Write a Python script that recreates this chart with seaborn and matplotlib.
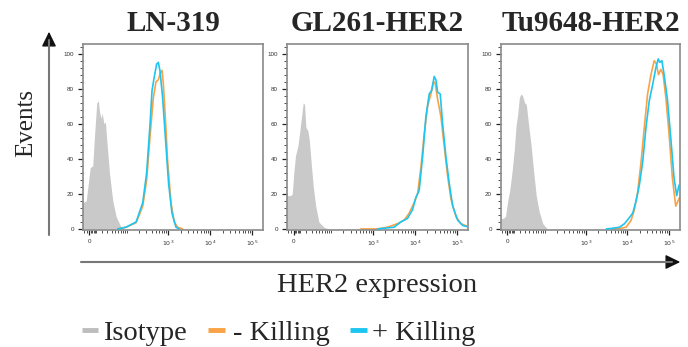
import numpy as np
import matplotlib
matplotlib.use("Agg")
import matplotlib.pyplot as plt
import seaborn as sns
from matplotlib.lines import Line2D
from matplotlib.patches import FancyArrowPatch
from matplotlib.ticker import FixedLocator, FixedFormatter, AutoMinorLocator

# ---- data (x = HER2 signal, y = % of max) ----
panel_titles = ["LN-319", "GL261-HER2", "Tu9648-HER2"]

ln319_iso_x = [-10.5, -4.7, 1.0, 4.7, 7.1, 10.7, 13.3, 15.0, 17.8, 19.7, 22.8, 25.9, 28.6, 34.7, 43.4, 53.6, 71.8, 86.8]
ln319_iso_y = [15, 16, 35, 36, 52, 72, 73, 67, 63, 66, 60, 61, 51, 32, 16, 7, 1, 0]
ln319_minus_x = [59, 96, 169, 244, 303, 366, 439, 508, 577, 644, 708, 760, 848, 962, 1159, 1390, 1667, 2194]
ln319_minus_y = [0, 1, 3.6, 13, 28, 53, 75, 84, 85, 89, 90.5, 83, 64, 39, 15, 4, 1, 0]
ln319_plus_x = [59, 96, 169, 244, 303, 366, 408, 463, 526, 577, 634, 731, 848, 1016, 1225, 1527, 1832]
ln319_plus_y = [0, 1, 4, 15, 32, 60, 79, 87, 94, 95, 90, 75, 53, 26, 9, 1, 0]

gl261_iso_x = [-10, -4.3, -1.8, 0.4, 2.9, 6.2, 9.2, 11.8, 14.5, 16.7, 19.0, 22.6, 25.3, 29.5, 34.0, 40.1, 48.9, 66.6, 88.4]
gl261_iso_y = [19, 19, 20, 32, 42, 47, 56, 64, 72, 71, 58, 56, 51, 37, 24, 13, 4, 1, 0]
gl261_minus_x = [518, 1295, 2244, 3890, 5580, 7350, 9680, 11660, 13990, 16760, 20200, 24230, 28100, 30690,
                 35000, 41970, 50350, 60670, 72780, 95700, 125900, 198600]
gl261_minus_y = [0, 0, 1, 3, 5, 9, 15, 20, 35, 54, 70, 77, 84, 83, 74, 64, 47, 30, 17, 7, 3, 1]
gl261_plus_x = [1295, 3222, 4660, 6730, 8850, 10630, 12740, 15350, 18400, 22070, 25180, 29040, 31900, 35000,
                40360, 46030, 55210, 66220, 79830, 105000, 138300, 198600]
gl261_plus_y = [0, 1, 4, 6, 11, 18, 22, 41, 64, 77, 79, 87, 85, 78, 77, 60, 41, 26, 13, 5, 2, 1]

tu9648_iso_x = [-10, -6.8, -2.9, 0.4, 3.3, 6.8, 10.3, 12.9, 15.5, 18.4, 21.5, 24.5, 28.6, 32.4, 38.1, 44.6,
                52.3, 61.4, 73.1, 90.5, 117.5]
tu9648_iso_y = [6, 6, 7, 16, 22, 33, 46, 59, 65, 75, 77, 76, 72, 71, 59, 48, 33, 19, 10, 3, 0]
tu9648_minus_x = [4480, 7110, 9360, 12330, 14770, 17700, 21330, 25590, 30690, 36980, 44330, 50350, 56100,
                  64120, 72780, 84330, 101100, 121300, 146200, 166000, 182000]
tu9648_minus_y = [0, 0.4, 1, 5, 11, 21, 38, 58, 77, 88, 96, 94, 88, 91, 88, 75, 54, 29, 13, 16, 18]
tu9648_plus_x = [3120, 4480, 6480, 8530, 10790, 13460, 16220, 19440, 23330, 28100, 33650, 40360, 48640,
                 55210, 60670, 67760, 76740, 92040, 110900, 133000, 154500, 175100]
tu9648_plus_y = [0, 0.4, 1, 3, 6, 9, 16, 25, 38, 58, 73, 82, 92, 97, 95, 96, 88, 74, 52, 29, 19, 25]

iso_x = [ln319_iso_x, gl261_iso_x, tu9648_iso_x]
iso_y = [ln319_iso_y, gl261_iso_y, tu9648_iso_y]
minus_x = [ln319_minus_x, gl261_minus_x, tu9648_minus_x]
minus_y = [ln319_minus_y, gl261_minus_y, tu9648_minus_y]
plus_x = [ln319_plus_x, gl261_plus_x, tu9648_plus_x]
plus_y = [ln319_plus_y, gl261_plus_y, tu9648_plus_y]

legend_labels = ["Isotype", "- Killing", "+ Killing"]

# ---- style ----
sns.set_style("ticks")
plt.rcParams['font.family'] = ['Liberation Sans', 'DejaVu Sans']
serif = ['Liberation Serif', 'DejaVu Serif']

c_iso = "#c9c9c9"
c_minus = "#f9a246"
c_plus = "#1cc6f0"
c_spine = "#8a8a8a"

W, H = 688, 347
fig = plt.figure(figsize=(W / 100, H / 100), dpi=100)


def fx(px):
    return px / W


def fy(py):
    return 1 - py / H


# biexponential-like display, approximated with arcsinh
C = 26.0


def fwd(x):
    return np.arcsinh(np.asarray(x) / C)


def inv(y):
    return C * np.sinh(np.asarray(y))


panel_left = [83, 287, 501]
panel_right = [263, 468, 680]
top_px, bottom_px = 44, 230

minor_x = [-8, -4] + [m * 10 ** d for d in range(0, 6) for m in range(2, 10, 2 if d == 0 else 1)] + [10, 100]

for i in range(3):
    ax = fig.add_axes([fx(panel_left[i]), fy(bottom_px),
                       fx(panel_right[i] - panel_left[i]), (bottom_px - top_px) / H])
    ax.fill_between(iso_x[i], iso_y[i], 0, color=c_iso, lw=0, zorder=1)
    sns.lineplot(x=minus_x[i], y=minus_y[i], ax=ax, color=c_minus, lw=1.2,
                 sort=False, estimator=None, zorder=2)
    sns.lineplot(x=plus_x[i], y=plus_y[i], ax=ax, color=c_plus, lw=1.2,
                 sort=False, estimator=None, zorder=3)

    ax.set_xscale("function", functions=(fwd, inv))
    ax.set_xlim(-9.5, 1.85e5)
    ax.set_ylim(-0.6, 105.5)

    ax.xaxis.set_major_locator(FixedLocator([0, 1e3, 1e4, 1e5]))
    ax.xaxis.set_major_formatter(FixedFormatter(["0", r"$10^3$", r"$10^4$", r"$10^5$"]))
    ax.xaxis.set_minor_locator(FixedLocator(minor_x))
    ax.yaxis.set_major_locator(FixedLocator([0, 20, 40, 60, 80, 100]))
    ax.yaxis.set_minor_locator(AutoMinorLocator(5))

    ax.tick_params(which="major", length=3.5, width=0.9, color="#222",
                   labelsize=4.5, labelcolor="#333", pad=3)
    ax.tick_params(which="minor", length=2, width=0.6, color="#333")
    ax.set_xlabel("")
    ax.set_ylabel("")
    for s in ax.spines.values():
        s.set_visible(True)
        s.set_color(c_spine)
        s.set_linewidth(1.2)

    fig.text(fx((panel_left[i] + panel_right[i]) / 2), fy(31), panel_titles[i],
             ha="center", va="baseline", fontsize=21, fontweight="bold", family=serif)

# ---- axis arrows ----
fig.add_artist(Line2D([fx(49), fx(49)], [fy(235), fy(40)], transform=fig.transFigure,
                      color="#777", lw=1.5))
fig.add_artist(FancyArrowPatch((fx(49), fy(42)), (fx(49), fy(29)), transform=fig.transFigure,
                               arrowstyle="-|>,head_length=0.45,head_width=0.22",
                               mutation_scale=20, color="#111", lw=1))
fig.add_artist(Line2D([fx(81), fx(672)], [fy(262), fy(262)], transform=fig.transFigure,
                      color="#777", lw=1.5))
fig.add_artist(FancyArrowPatch((fx(670), fy(262)), (fx(683), fy(262)), transform=fig.transFigure,
                               arrowstyle="-|>,head_length=0.45,head_width=0.22",
                               mutation_scale=20, color="#111", lw=1))

fig.text(fx(26), fy(123), "Events", rotation=90, ha="center", va="center",
         fontsize=18, family=serif)
fig.text(fx(377), fy(292), "HER2 expression", ha="center", va="baseline",
         fontsize=20.5, family=serif)

# ---- legend ----
leg_colors = ["#bdbdbd", c_minus, c_plus]
patch_x = [(82, 98), (208, 225), (350, 367)]
text_x = [103, 233, 372]
for lab, col, (x0, x1), tx in zip(legend_labels, leg_colors, patch_x, text_x):
    fig.add_artist(Line2D([fx(x0), fx(x1)], [fy(330), fy(330)], transform=fig.transFigure,
                          color=col, lw=3.5, solid_capstyle="butt"))
    fig.text(fx(tx), fy(340), lab, ha="left", va="baseline", fontsize=20.5, family=serif)

fig.savefig("out.png", dpi=100)
